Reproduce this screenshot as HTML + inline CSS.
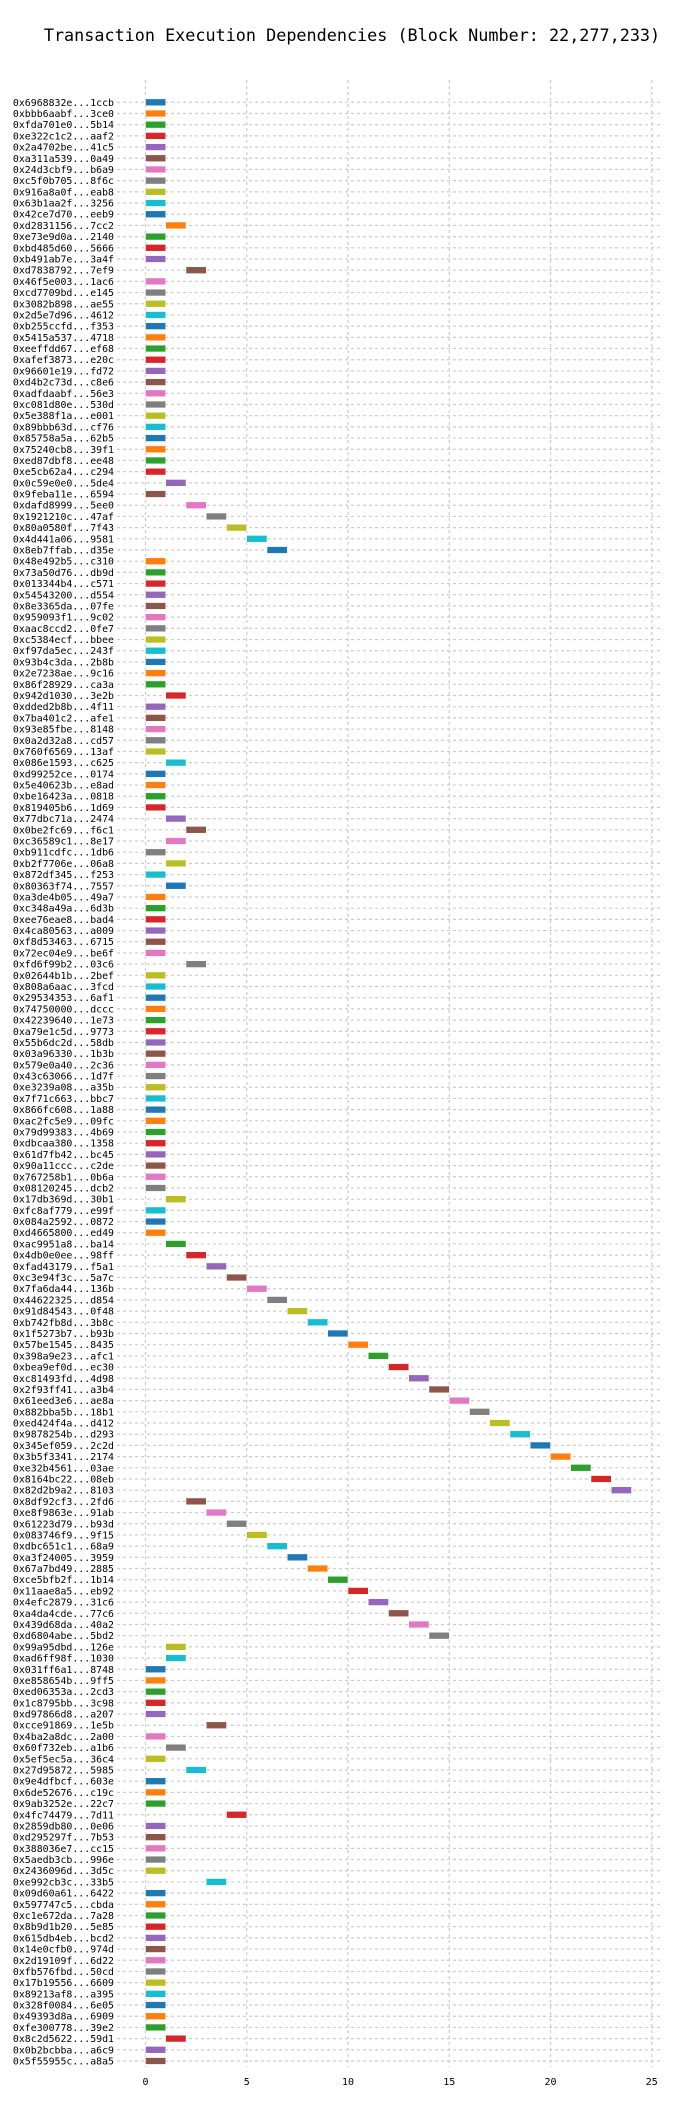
<!DOCTYPE html>
<html><head><meta charset="utf-8"><style>
html,body{margin:0;padding:0;background:#fff;}
svg{display:block;}
</style></head><body>
<svg id="chart" width="700" height="2112" xmlns="http://www.w3.org/2000/svg">
<text x="352" y="41" text-anchor="middle" font-family="DejaVu Sans Mono, Liberation Mono, monospace" font-size="16.8" fill="#000">Transaction Execution Dependencies (Block Number: 22,277,233)</text>
<g id="grid"></g><g id="bars"></g><g id="ylabels"></g><g id="xticks"></g>
</svg>
<script>
const txLabels = ["0x6968832e...1ccb","0xbbb6aabf...3ce0","0xfda701e0...5b14","0xe322c1c2...aaf2","0x2a4702be...41c5","0xa311a539...0a49","0x24d3cbf9...b6a9","0xc5f0b705...8f6c","0x916a8a0f...eab8","0x63b1aa2f...3256","0x42ce7d70...eeb9","0xd2831156...7cc2","0xe73e9d0a...2140","0xbd485d60...5666","0xb491ab7e...3a4f","0xd7838792...7ef9","0x46f5e003...1ac6","0xcd7709bd...e145","0x3082b898...ae55","0x2d5e7d96...4612","0xb255ccfd...f353","0x5415a537...4718","0xeeffdd67...ef68","0xafef3873...e20c","0x96601e19...fd72","0xd4b2c73d...c8e6","0xadfdaabf...56e3","0xc081d80e...530d","0x5e388f1a...e001","0x89bbb63d...cf76","0x85758a5a...62b5","0x75240cb8...39f1","0xed87dbf8...ee48","0xe5cb62a4...c294","0x0c59e0e0...5de4","0x9feba11e...6594","0xdafd8999...5ee0","0x1921210c...47af","0x80a0580f...7f43","0x4d441a06...9581","0x8eb7ffab...d35e","0x48e492b5...c310","0x73a50d76...db9d","0x013344b4...c571","0x54543200...d554","0x8e3365da...07fe","0x959093f1...9c02","0xaac8ccd2...0fe7","0xc5384ecf...bbee","0xf97da5ec...243f","0x93b4c3da...2b8b","0x2e7238ae...9c16","0x86f28929...ca3a","0x942d1030...3e2b","0xdded2b8b...4f11","0x7ba401c2...afe1","0x93e85fbe...8148","0x0a2d32a8...cd57","0x760f6569...13af","0x086e1593...c625","0xd99252ce...0174","0x5e40623b...e8ad","0xbe16423a...0818","0x819405b6...1d69","0x77dbc71a...2474","0x0be2fc69...f6c1","0xc36589c1...8e17","0xb911cdfc...1db6","0xb2f7706e...06a8","0x872df345...f253","0x80363f74...7557","0xa3de4b05...49a7","0xc348a49a...6d3b","0xee76eae8...bad4","0x4ca80563...a009","0xf8d53463...6715","0x72ec04e9...be6f","0xfd6f99b2...03c6","0x02644b1b...2bef","0x808a6aac...3fcd","0x29534353...6af1","0x74750000...dccc","0x42239640...1e73","0xa79e1c5d...9773","0x55b6dc2d...58db","0x03a96330...1b3b","0x579e0a40...2c36","0x43c63066...1d7f","0xe3239a08...a35b","0x7f71c663...bbc7","0x866fc608...1a88","0xac2fc5e9...09fc","0x79d99383...4b69","0xdbcaa380...1358","0x61d7fb42...bc45","0x90a11ccc...c2de","0x767258b1...0b6a","0x08120245...dcb2","0x17db369d...30b1","0xfc8af779...e99f","0x084a2592...0872","0xd4665800...ed49","0xac9951a8...ba14","0x4db0e0ee...98ff","0xfad43179...f5a1","0xc3e94f3c...5a7c","0x7fa6da44...136b","0x44622325...d854","0x91d84543...0f48","0xb742fb8d...3b8c","0x1f5273b7...b93b","0x57be1545...8435","0x398a9e23...afc1","0xbea9ef0d...ec30","0xc81493fd...4d98","0x2f93ff41...a3b4","0x61eed3e6...ae8a","0x882bba5b...18b1","0xed424f4a...d412","0x9878254b...d293","0x345ef059...2c2d","0x3b5f3341...2174","0xe32b4561...03ae","0x8164bc22...08eb","0x82d2b9a2...8103","0x8df92cf3...2fd6","0xe8f9863e...91ab","0x61223d79...b93d","0x083746f9...9f15","0xdbc651c1...68a9","0xa3f24005...3959","0x67a7bd49...2885","0xce5bfb2f...1b14","0x11aae8a5...eb92","0x4efc2879...31c6","0xa4da4cde...77c6","0x439d68da...40a2","0xd6804abe...5bd2","0x99a95dbd...126e","0xad6ff98f...1030","0x031ff6a1...8748","0xe858654b...9ff5","0xed06353a...2cd3","0x1c8795bb...3c98","0xd97866d8...a207","0xcce91869...1e5b","0x4ba2a8dc...2a00","0x60f732eb...a1b6","0x5ef5ec5a...36c4","0x27d95872...5985","0x9e4dfbcf...603e","0x6de52676...c19c","0x9ab3252e...22c7","0x4fc74479...7d11","0x2859db80...0e06","0xd295297f...7b53","0x388036e7...cc15","0x5aedb3cb...996e","0x2436096d...3d5c","0xe992cb3c...33b5","0x09d60a61...6422","0x597747c5...cbda","0xc1e672da...7a28","0x8b9d1b20...5e85","0x615db4eb...bcd2","0x14e0cfb0...974d","0x2d19109f...6d22","0xfb576fbd...50cd","0x17b19556...6609","0x89213af8...a395","0x328f0084...6e05","0x49393d8a...6909","0xfe300778...39e2","0x8c2d5622...59d1","0x0b2bcbba...a6c9","0x5f55955c...a8a5"];
const startTimes = [0,0,0,0,0,0,0,0,0,0,0,1,0,0,0,2,0,0,0,0,0,0,0,0,0,0,0,0,0,0,0,0,0,0,1,0,2,3,4,5,6,0,0,0,0,0,0,0,0,0,0,0,0,1,0,0,0,0,0,1,0,0,0,0,1,2,1,0,1,0,1,0,0,0,0,0,0,2,0,0,0,0,0,0,0,0,0,0,0,0,0,0,0,0,0,0,0,0,1,0,0,0,1,2,3,4,5,6,7,8,9,10,11,12,13,14,15,16,17,18,19,20,21,22,23,2,3,4,5,6,7,8,9,10,11,12,13,14,1,1,0,0,0,0,0,3,0,1,0,2,0,0,0,4,0,0,0,0,0,3,0,0,0,0,0,0,0,0,0,0,0,0,0,1,0,0];
const durations = new Array(txLabels.length).fill(1);
const xTickValues = [0,5,10,15,20,25];
const palette = ["#1f77b4","#ff7f0e","#2ca02c","#d62728","#9467bd","#8c564b","#e377c2","#7f7f7f","#bcbd22","#17becf"];

const NS="http://www.w3.org/2000/svg";
const X0=145.5, PXU=20.25, yFirst=102.3, yLast=2061, plotTop=80, plotBot=2067, plotL=117, plotR=660;
const n=txLabels.length;
const xs=v=>X0+v*PXU;
const ys=i=>yFirst+i*(yLast-yFirst)/(n-1);
function mk(tag,attrs,parent){const e=document.createElementNS(NS,tag);for(const k in attrs)e.setAttribute(k,attrs[k]);parent.appendChild(e);return e;}
const grid=document.getElementById('grid'),bars=document.getElementById('bars'),yl=document.getElementById('ylabels'),xt=document.getElementById('xticks');
xTickValues.forEach(v=>{
  const l=mk('line',{x1:xs(v),x2:xs(v),y1:plotTop,y2:plotBot,stroke:'#cccccc','stroke-width':1.2,'stroke-dasharray':'3,3'},grid);
  
  
  const t=mk('text',{x:xs(v),y:2085,'text-anchor':'middle','font-family':'DejaVu Sans Mono, Liberation Mono, monospace','font-size':'10',fill:'#000'},xt);
  t.textContent=v;
  
  
});
for(let i=0;i<n;i++){
  const y=ys(i);
  const g=mk('line',{x1:plotL,x2:plotR,y1:y,y2:y,stroke:'#cccccc','stroke-width':1.2,'stroke-dasharray':'3,3'},grid);
  
  
  const t=mk('text',{x:114,y:y+3.5,'text-anchor':'end','font-family':'DejaVu Sans Mono, Liberation Mono, monospace','font-size':'9.9',fill:'#000'},yl);
  t.textContent=txLabels[i];
  
  
  const b=mk('rect',{x:xs(startTimes[i]),y:y-3.4,width:durations[i]*PXU,height:6.8,fill:palette[i%10],stroke:'#ffffff','stroke-width':0.5},bars);
  
  
}
</script>
</body></html>
